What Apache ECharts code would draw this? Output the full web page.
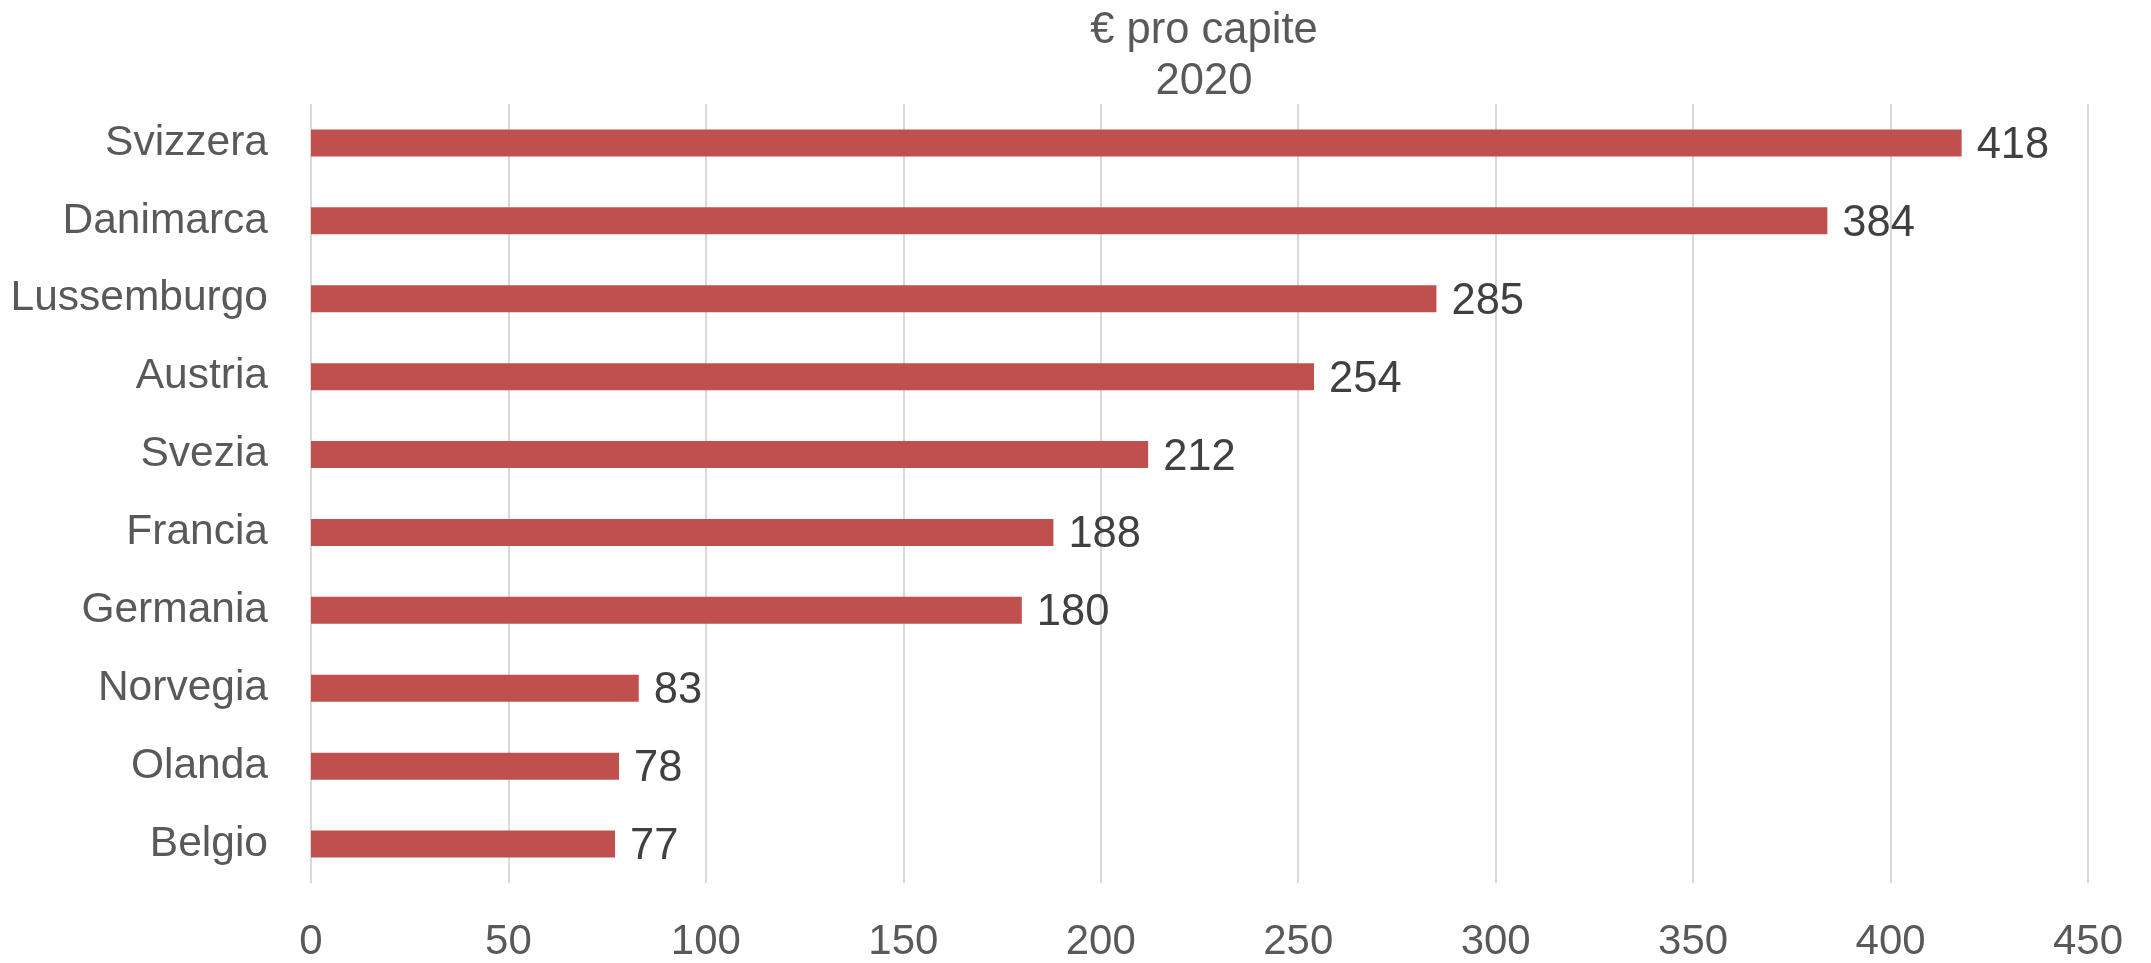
<!DOCTYPE html>
<html>
<head>
  <meta charset="utf-8">
  <title>€ pro capite 2020</title>
  <script src="https://cdn.jsdelivr.net/npm/echarts@6/dist/echarts.min.js"></script>
  <style>
    html, body { margin: 0; padding: 0; background: #fff; }
    #chart { width: 2151px; height: 963px; }
  </style>
</head>
<body>
  <div id="chart"></div>
  <script>
    // dati
    let paesi = ['Svizzera', 'Danimarca', 'Lussemburgo', 'Austria', 'Svezia',
                 'Francia', 'Germania', 'Norvegia', 'Olanda', 'Belgio'];
    let valori = [418, 384, 285, 254, 212, 188, 180, 83, 78, 77];
    let titolo = '€ pro capite\n2020';
    let asseMin = 0, asseMax = 450, passo = 50;

    let font = "'Liberation Sans', Arial, sans-serif";
    let myChart = echarts.init(document.getElementById('chart'));
    let option = {
      animation: false,
      title: {
        text: titolo,
        left: 1199,
        top: 0,
        textAlign: 'center',
        textStyle: {
          fontFamily: font,
          fontSize: 43.5,
          fontWeight: 'normal',
          color: '#595959',
          lineHeight: 51
        }
      },
      grid: { left: 311, right: 63, top: 104, bottom: 78 },
      xAxis: {
        type: 'value',
        min: asseMin,
        max: asseMax,
        interval: passo,
        axisLine: { show: false },
        axisTick: { show: false },
        splitLine: { lineStyle: { color: '#d9d9d9', width: 2 } },
        axisLabel: {
          margin: 38,
          fontFamily: font,
          fontSize: 42,
          color: '#595959'
        }
      },
      yAxis: {
        type: 'category',
        data: paesi,
        inverse: true,
        axisLine: { show: false },
        axisTick: { show: false },
        splitLine: { show: false },
        axisLabel: {
          margin: 43,
          fontFamily: font,
          fontSize: 42.5,
          color: '#595959',
          padding: [8, 0, 0, 0]
        }
      },
      series: [
        {
          type: 'bar',
          data: valori,
          barWidth: 27,
          itemStyle: { color: '#c0504d' },
          label: {
            show: true,
            position: 'right',
            distance: 15,
            offset: [0, 3],
            fontFamily: font,
            fontSize: 43.5,
            color: '#404040'
          }
        }
      ]
    };
    myChart.setOption(option);
  </script>
</body>
</html>
